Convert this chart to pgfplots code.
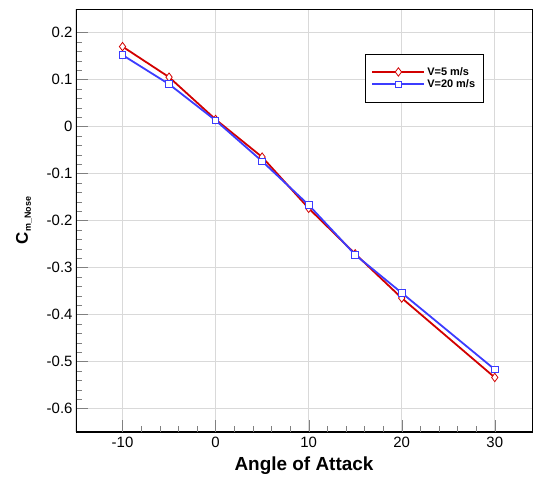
\documentclass[border=0pt]{standalone}
\usepackage{pgfplots}
\pgfplotsset{compat=1.18}
\usepackage{fontspec}
\setmainfont{Liberation Sans}
\definecolor{cred}{RGB}{210,0,0}
\definecolor{cblue}{RGB}{60,60,255}
\begin{document}
\begin{tikzpicture}
\begin{axis}[
  scale only axis,
  width=456bp, height=423bp,
  xmin=-15, xmax=34, ymin=-0.65, ymax=0.25,
  axis on top,
  xtick pos=left, ytick pos=left,
  axis line style={line width=0.8bp},
  xtick={-10,0,10,20,30},
  xticklabels={-10,0,10,20,30},
  ytick={-0.6,-0.5,-0.4,-0.3,-0.2,-0.1,0,0.1,0.2},
  yticklabels={-0.6,-0.5,-0.4,-0.3,-0.2,-0.1,0,0.1,0.2},
  minor x tick num=4, minor y tick num=4,
  tick align=inside,
  major tick length=12bp, minor tick length=6bp,
  ticklabel style={font=\fontsize{15}{17}\selectfont},
  xticklabel style={yshift=-2bp},
  xlabel={\textbf{Angle of Attack}},
  xlabel style={font=\fontsize{19}{21}\selectfont, yshift=-2bp},
  ylabel={\textbf{C}\raisebox{-3bp}{\fontsize{9}{10}\selectfont\bfseries m\_Nose}},
  ylabel style={font=\fontsize{17}{19}\selectfont, yshift=8bp},
  legend style={at={(0.634,0.894)}, anchor=north west, draw=black, line width=0.8bp,
    font=\fontsize{11}{13}\selectfont\bfseries, inner xsep=6bp, inner ysep=11bp, row sep=-1bp},
  legend cell align=left,
  legend image code/.code={%
    \draw[mark repeat=2,mark phase=2] plot coordinates {(0bp,0bp) (26bp,0bp) (52bp,0bp)};},
]
% grid
\draw[gray!30, line width=0.8bp] (axis cs:-10,-0.65) -- (axis cs:-10,0.25);
\draw[gray!30, line width=0.8bp] (axis cs:0,-0.65) -- (axis cs:0,0.25);
\draw[gray!30, line width=0.8bp] (axis cs:10,-0.65) -- (axis cs:10,0.25);
\draw[gray!30, line width=0.8bp] (axis cs:20,-0.65) -- (axis cs:20,0.25);
\draw[gray!30, line width=0.8bp] (axis cs:30,-0.65) -- (axis cs:30,0.25);
\draw[gray!30, line width=0.8bp] (axis cs:-15,0.2) -- (axis cs:34,0.2);
\draw[gray!30, line width=0.8bp] (axis cs:-15,0.1) -- (axis cs:34,0.1);
\draw[gray!30, line width=0.8bp] (axis cs:-15,0) -- (axis cs:34,0);
\draw[gray!30, line width=0.8bp] (axis cs:-15,-0.1) -- (axis cs:34,-0.1);
\draw[gray!30, line width=0.8bp] (axis cs:-15,-0.2) -- (axis cs:34,-0.2);
\draw[gray!30, line width=0.8bp] (axis cs:-15,-0.3) -- (axis cs:34,-0.3);
\draw[gray!30, line width=0.8bp] (axis cs:-15,-0.4) -- (axis cs:34,-0.4);
\draw[gray!30, line width=0.8bp] (axis cs:-15,-0.5) -- (axis cs:34,-0.5);
\draw[gray!30, line width=0.8bp] (axis cs:-15,-0.6) -- (axis cs:34,-0.6);
\addplot[cred, line width=1.8bp, mark=diamond*, mark size=4.2bp, mark options={fill=white, line width=0.8bp}]
  coordinates {(-10,0.170) (-5,0.105) (0,0.015) (5,-0.065) (10,-0.174) (15,-0.271) (20,-0.365) (30,-0.534)};
\addlegendentry{V=5 m/s}
\addplot[cblue, line width=1.8bp, mark=square*, mark size=3.3bp, mark options={fill=white, line width=0.8bp}]
  coordinates {(-10,0.152) (-5,0.090) (0,0.013) (5,-0.074) (10,-0.167) (15,-0.273) (20,-0.354) (30,-0.517)};
\addlegendentry{V=20 m/s}
\draw[line width=2.2bp] (rel axis cs:0,1) -- (rel axis cs:0,0) -- (rel axis cs:1,0);
\end{axis}
\path[use as bounding box] (current axis.south west) ++(-76bp,-41bp) rectangle ([shift={(8bp,9bp)}]current axis.north east);
\end{tikzpicture}
\end{document}
